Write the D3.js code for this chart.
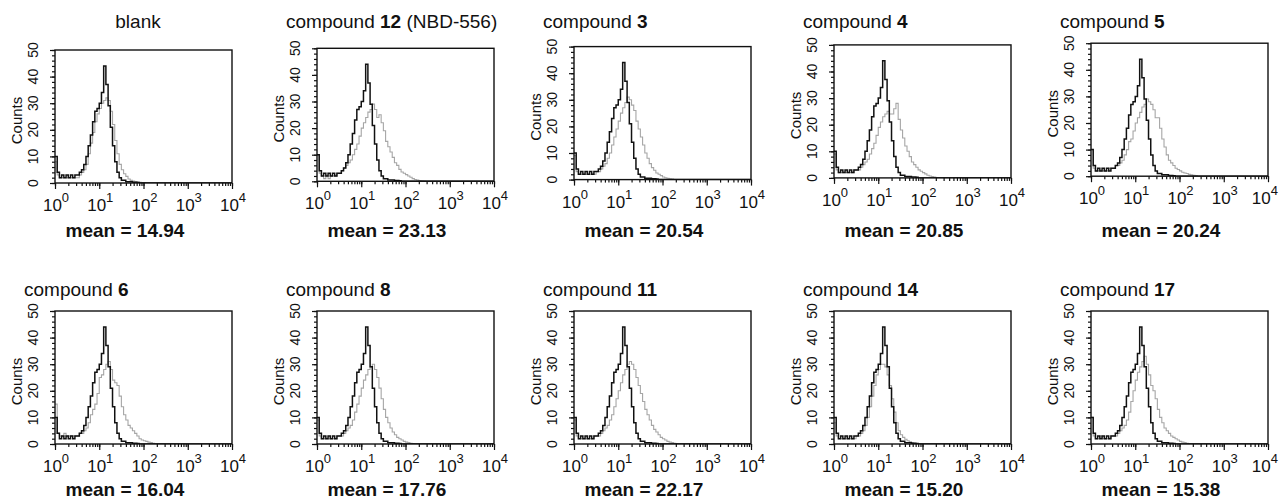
<!DOCTYPE html>
<html>
<head>
<meta charset="utf-8">
<script src="https://cdn.jsdelivr.net/npm/d3@7"></script>
<style>
  body { margin: 0; background: #fff; }
  text { font-family: Arial, "Liberation Sans", sans-serif; fill: #111; }
</style>
</head>
<body>
<svg id="chart" width="1280" height="501"></svg>
<script>
// panel labels
var titleText = ["blank", "compound", "compound", "compound", "compound",
                 "compound", "compound", "compound", "compound", "compound"];
var titleNum = ["", "12", "3", "4", "5", "6", "8", "11", "14", "17"];
var titleNote = ["", " (NBD-556)", "", "", "", "", "", "", "", ""];
var meanValues = ["14.94", "23.13", "20.54", "20.85", "20.24",
                  "16.04", "17.76", "22.17", "15.20", "15.38"];

var yTickLabels = [0, 10, 20, 30, 40, 50];
var xTickValues = [1, 10, 100, 1000, 10000];
var xTickExp = ["0", "1", "2", "3", "4"];

// histogram counts, one value per 0.05-decade channel starting at 10^0
var binStep = 0.05;
var control = [10,4,2,3,2,3,2,3,2,3,3,4,5,7,10,14,18,23,27,28,30,34,44,37,29,21,14,8,4,2,1,1,0.5,0.5,0.5,0.3,0.3,0.2,0];

var grayBlank = [8,3,2,2,2,2,2,2,2,2,2,3,4,5,7,11,15,19,23,26,28,30,31,32,31,27,22,16,11,7,5,3.5,2.5,1.5,1,0.7,0.5,0.4,0.3,0.2,0.2];
var gray12 = [10,3,2,1,2,1,2,2,2,3,3,4,5,6,7,8,10,12,14,17,20,22,24,26,27,29,27,24,25,22,19,15,13,11,9,7,6,4.5,3.5,3,2.5,2,1.5,1,0.7,0.5,0.3,0.2,0.1];
var gray3 = [9,3,2,2,2,2,2,2,2,2,3,3,4,5,6,8,10,13,16,19,22,25,27,29,31,30,28,26,22,19,16,13,10,8,6,4.5,3.5,2.5,2,1.5,1,0.7,0.5,0.3,0.2];
var gray4 = [9,3,2,2,2,2,2,2,2,3,3,3,4,5,6,7,9,11,13,16,19,21,23,24,25,24,24,26,28,22,18,15,12,10,8,6,5,4,3,2.5,2,1.5,1,0.7,0.5,0.3];
var gray5 = [10,3,2,2,2,2,2,2,3,3,3,4,4,5,6,8,10,13,14,17,20,22,24,26,27,29,28,27,25,22,22,18,14,11,8,6,5,4,3,2.5,2,1.5,1.2,1,0.7,0.5,0.3,0.2];
var gray6 = [15,4,3,3,4,3,3,3,3,3,3,4,4,5,6,8,11,13,15,19,25,26,28,30,31,28,24,23,22,18,14,11,9,7,6,5,4,3,2,1.5,1.2,1,0.7,0.5,0.3];
var gray8 = [9,3,2,2,2,2,2,2,2,3,3,3,4,5,6,7,9,12,15,18,21,24,26,28,29,30,28,25,21,17,13,10,8,6,4.5,3.5,2.5,2,1.5,1,0.7,0.5,0.3,0.2];
var gray11 = [9,3,2,2,2,2,2,2,2,3,3,3,4,5,6,7,9,11,14,17,20,23,26,28,30,31,30,28,25,22,19,16,13,11,9,7,5.5,4.5,3.5,2.5,2,1.5,1,0.7,0.5,0.3,0.2];
var gray14 = [8,3,2,2,2,2,2,2,2,2,3,3,4,5,7,10,14,18,22,26,28,30,30,29,26,22,17,12,8,5,3.5,2.5,1.8,1.2,0.8,0.5,0.3,0.2];
var gray17 = [10,3,2,2,3,2,2,2,2,3,3,3,4,5,6,7,9,12,16,20,24,27,29,31,33,30,26,22,20,17,13,10,8,6,5,4,3,2.5,2,1.5,1,0.7,0.5,0.3];

var stained = [grayBlank, gray12, gray3, gray4, gray5, gray6, gray8, gray11, gray14, gray17];

// layout
var colX = [55, 317, 574, 834, 1091];
var rowY = [49, 311];
var boxW = 177, boxH = 133;
var titleY = [28, 296];
var meanY = [237, 496];
var pageW = 1280;

var svg = d3.select('#chart');

function histPoints(arr) {
  var pts = arr.map(function (v, i) { return [Math.pow(10, i * binStep), v]; });
  pts.push([Math.pow(10, arr.length * binStep), 0]);
  pts.push([10000, 0]);
  return pts;
}

var minorX = [];
[1, 10, 100, 1000].forEach(function (d) {
  for (var m = 1; m < 10; m++) minorX.push(m * d);
});
minorX.push(10000);

stained.forEach(function (gray, k) {
  var col = k % 5, row = Math.floor(k / 5);
  var x0 = colX[col];
  var y0 = rowY[row] + (row === 0 ? 1 - 1.7 * col : 0);

  var x = d3.scaleLog().domain([1, 10000]).range([0, boxW]);
  var y = d3.scaleLinear().domain([0, 50]).range([boxH, 0]);

  var g = svg.append('g').attr('transform', 'translate(' + x0 + ',' + y0 + ')');

  g.append('clipPath').attr('id', 'clip' + k)
    .append('rect').attr('width', boxW).attr('height', boxH);

  var line = d3.line()
    .x(function (d) { return x(d[0]); })
    .y(function (d) { return y(d[1]); })
    .curve(d3.curveStepAfter);

  g.append('path')
    .attr('d', line(histPoints(gray)))
    .attr('clip-path', 'url(#clip' + k + ')')
    .attr('fill', 'none')
    .attr('stroke', '#a6a6a6')
    .attr('stroke-width', 1.1);

  g.append('path')
    .attr('d', line(histPoints(control)))
    .attr('clip-path', 'url(#clip' + k + ')')
    .attr('fill', 'none')
    .attr('stroke', '#111')
    .attr('stroke-width', 1.5);

  // x axis ticks (minor + major), labels drawn separately
  var xMinor = g.append('g').attr('transform', 'translate(0,' + boxH + ')')
    .call(d3.axisBottom(x).tickValues(minorX).tickSize(3).tickFormat(''));
  var xMajor = g.append('g').attr('transform', 'translate(0,' + boxH + ')')
    .call(d3.axisBottom(x).tickValues(xTickValues).tickSize(6).tickFormat(''));
  // y axis ticks
  var yMinor = g.append('g')
    .call(d3.axisLeft(y).tickValues(d3.range(0, 51, 2)).tickSize(3).tickFormat(''));
  var yMajor = g.append('g')
    .call(d3.axisLeft(y).tickValues(yTickLabels).tickSize(5).tickFormat(''));
  [xMinor, xMajor, yMinor, yMajor].forEach(function (a) {
    a.select('.domain').remove();
    a.selectAll('line').attr('stroke', '#111').attr('stroke-width', 1.2);
  });

  g.append('rect')
    .attr('width', boxW).attr('height', boxH)
    .attr('fill', 'none').attr('stroke', '#111').attr('stroke-width', 1.4);

  // x tick labels 10^n
  xTickValues.forEach(function (v, i) {
    var t = g.append('text')
      .attr('x', x(v) + 1)
      .attr('y', boxH + 28)
      .attr('text-anchor', 'middle')
      .style('font-size', '17px');
    t.append('tspan').text('10');
    t.append('tspan').attr('dy', -9).style('font-size', '13px').text(xTickExp[i]);
    // keep the last label inside the page
    var bb = t.node().getBBox();
    var over = x0 + bb.x + bb.width - (pageW - 2);
    if (over > 0) t.attr('x', x(v) + 1 - over);
  });

  // y tick labels (rotated)
  yTickLabels.forEach(function (v) {
    g.append('text')
      .attr('transform', 'translate(-17,' + y(v) + ') rotate(-90)')
      .attr('text-anchor', 'middle')
      .style('font-size', '14px')
      .text(v);
  });

  g.append('text')
    .attr('transform', 'translate(-33,' + (boxH / 2 + 4) + ') rotate(-90)')
    .attr('text-anchor', 'middle')
    .style('font-size', '15px')
    .text('Counts');

  // title
  var title = svg.append('text')
    .attr('y', titleY[row])
    .style('font-size', '19px');
  if (titleNum[k] === '') {
    title.attr('x', x0 + 83).attr('text-anchor', 'middle').text(titleText[k]);
  } else {
    title.attr('x', x0 - 31);
    title.append('tspan').text(titleText[k] + ' ');
    title.append('tspan').style('font-weight', 'bold').text(titleNum[k]);
    title.append('tspan').text(titleNote[k]);
  }

  svg.append('text')
    .attr('x', x0 + 70)
    .attr('y', meanY[row])
    .attr('text-anchor', 'middle')
    .style('font-size', '19px')
    .style('font-weight', 'bold')
    .text('mean = ' + meanValues[k]);
});
</script>
</body>
</html>
